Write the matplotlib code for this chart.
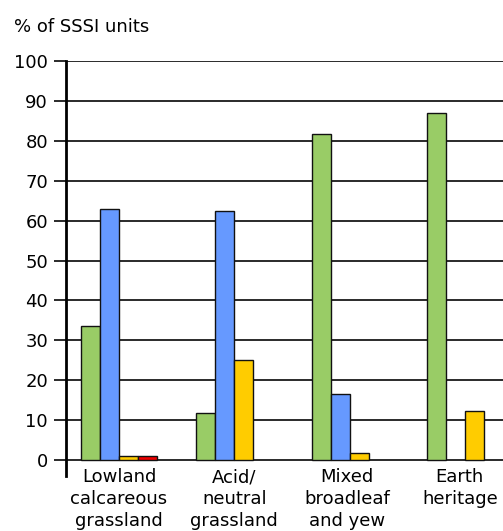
import matplotlib
matplotlib.use("Agg")
import matplotlib.pyplot as plt
import numpy as np

# habitat categories and condition shares (% of SSSI units)
categories = [
    "Lowland\ncalcareous\ngrassland",
    "Acid/\nneutral\ngrassland",
    "Mixed\nbroadleaf\nand yew",
    "Earth\nheritage",
]
green_vals = [33.6, 11.8, 81.7, 87.1]
blue_vals = [62.9, 62.3, 16.5, 0]
yellow_vals = [0.9, 25.0, 1.7, 12.2]
red_vals = [0.9, 0, 0, 0]

series = [
    (green_vals, "#99cc66"),
    (blue_vals, "#6699ff"),
    (yellow_vals, "#ffcc00"),
    (red_vals, "#ee0000"),
]

plt.rcParams["font.family"] = ["DejaVu Sans"]
plt.rcParams["font.size"] = 13

fig = plt.figure(figsize=(5.03, 5.31), dpi=100)
ax = fig.add_axes([0.1312, 0.1036, 0.8688, 0.7814])

x = np.arange(len(categories))
w = 0.165
for k, (vals, col) in enumerate(series):
    offs = (k - 1.5) * w
    for xi, v in zip(x, vals):
        if v > 0:
            ax.bar(xi + offs, v, width=w, color=col, edgecolor="#111111",
                   linewidth=1.0, zorder=3)

ax.set_xlim(-0.46, 3.33)
ax.set_ylim(-4, 100)
ax.set_yticks(np.arange(0, 101, 10))
ax.yaxis.grid(True, color="#2a2a2a", linewidth=1.4, zorder=1)
ax.set_axisbelow(True)
ax.set_xticks([])

for s in ("top", "right", "bottom"):
    ax.spines[s].set_visible(False)
ax.spines["left"].set_linewidth(2)
ax.spines["left"].set_color("black")
ax.tick_params(axis="y", length=9, width=1.4, color="#2a2a2a", pad=4,
               labelsize=13)

# last label sits a little left so it stays inside the figure
label_shift = [0.0, 0.0, -0.02, -0.045]
for xi, lab, dx in zip(x, categories, label_shift):
    ax.text(xi + dx, -2, lab, ha="center", va="top", fontsize=13,
            linespacing=1.3, clip_on=False)

fig.text(0.027, 1 - 27 / 531, "% of SSSI units", ha="left", va="center",
         fontsize=13)

fig.savefig("out.png", dpi=100)
